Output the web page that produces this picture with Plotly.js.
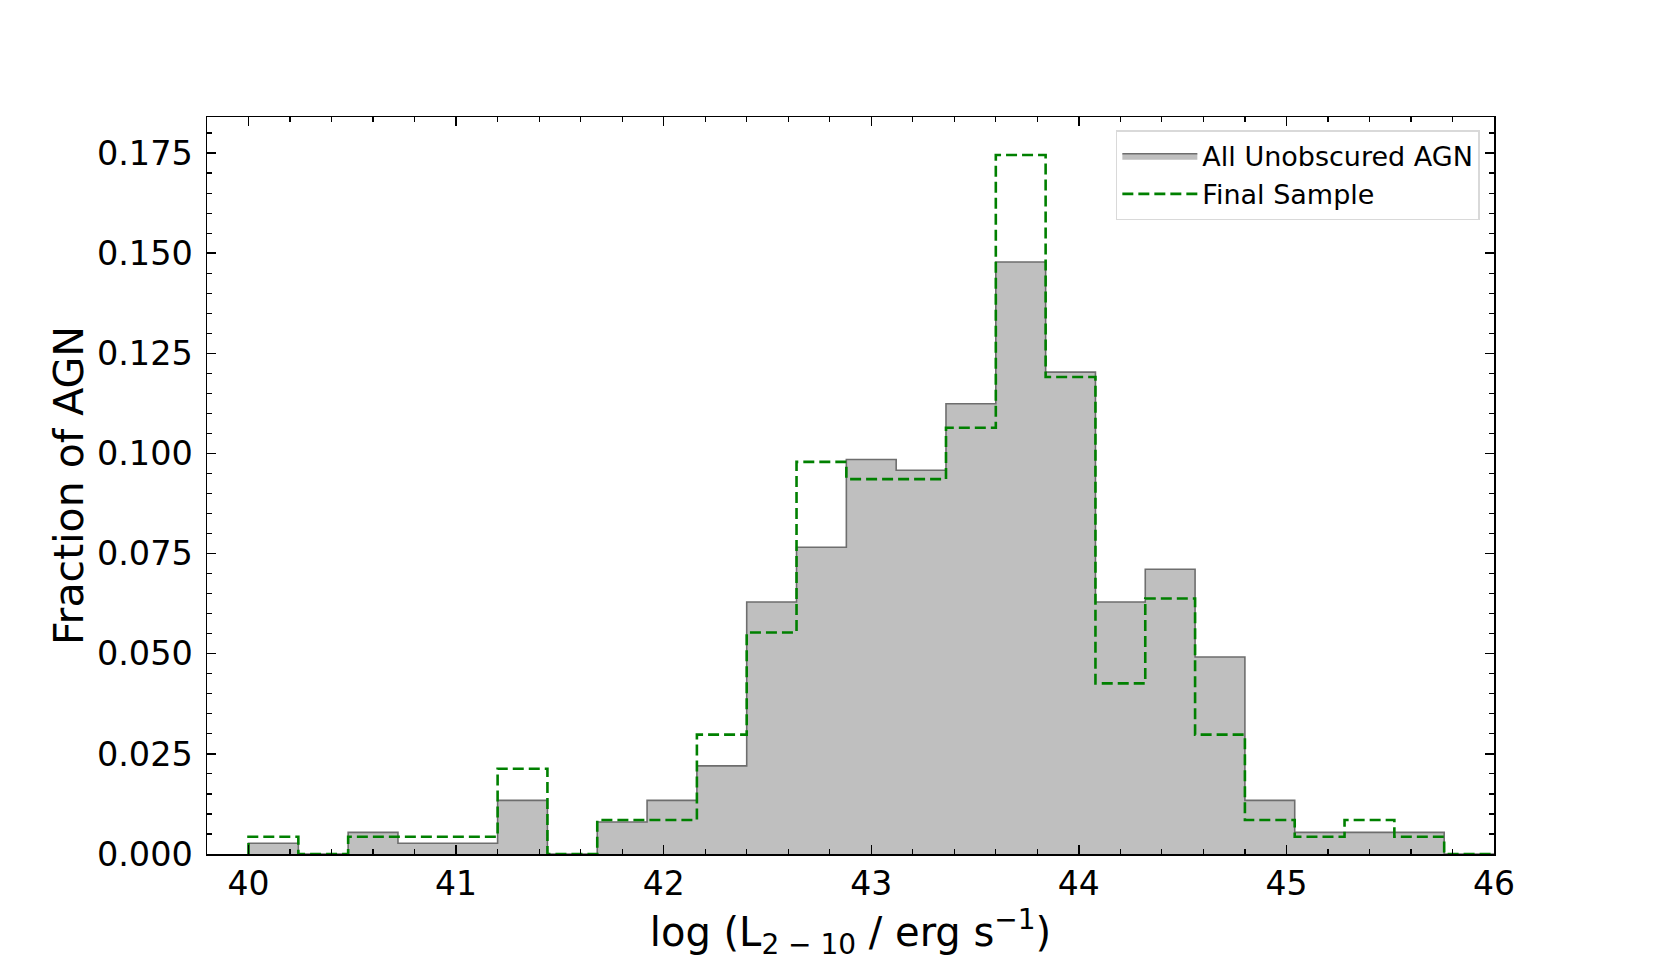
<!DOCTYPE html>
<html>
<head>
<meta charset="utf-8">
<script src="https://cdn.plot.ly/plotly-3.0.1.min.js"></script>
<style>
  html, body { margin: 0; padding: 0; background: #fff; }
  #plot { width: 1661px; height: 977px; }
</style>
</head>
<body>
<div id="plot"></div>
<script>
// bin edges of log L(2-10 keV), 25 bins of 0.24 dex
var binEdges = [40.00, 40.24, 40.48, 40.72, 40.96, 41.20, 41.44, 41.68, 41.92, 42.16,
                42.40, 42.64, 42.88, 43.12, 43.36, 43.60, 43.84, 44.08, 44.32, 44.56,
                44.80, 45.04, 45.28, 45.52, 45.76, 46.00];

// fraction of AGN in each bin
var allAgn = [0.0027, 0, 0.0054, 0.0027, 0.0027, 0.0134, 0, 0.0080, 0.0134, 0.0220,
              0.0629, 0.0766, 0.0985, 0.0958, 0.1124, 0.1478, 0.1203, 0.0629, 0.0711, 0.0492,
              0.0134, 0.0054, 0.0054, 0.0054, 0];

var finalSample = [0.0043, 0, 0.0043, 0.0043, 0.0043, 0.0213, 0, 0.0085, 0.0085, 0.0298,
                   0.0553, 0.0979, 0.0936, 0.0936, 0.1064, 0.1745, 0.1191, 0.0426, 0.0638, 0.0298,
                   0.0085, 0.0043, 0.0085, 0.0043, 0];

// turn values per bin into a step outline (x = edges, shape hv)
function stepXY(edges, vals) {
  var x = [edges[0]], y = [0];
  for (var i = 0; i < vals.length; i++) {
    x.push(edges[i]);
    y.push(vals[i]);
  }
  x.push(edges[edges.length - 1]);
  y.push(0);
  return {x: x, y: y};
}

var s1 = stepXY(binEdges, allAgn);
var s2 = stepXY(binEdges, finalSample);

var trace1 = {
  x: s1.x,
  y: s1.y,
  type: "scatter",
  mode: "lines",
  name: "All Unobscured AGN",
  line: {shape: "hv", color: "#6e6e6e", width: 1.6},
  fill: "tozeroy",
  fillcolor: "#bfbfbf"
};

var trace2 = {
  x: s2.x,
  y: s2.y,
  type: "scatter",
  mode: "lines",
  name: "Final Sample",
  line: {shape: "hv", color: "#008000", width: 2.6, dash: "11px,5px"}
};

var data = [trace1, trace2];

var font = "DejaVu Sans, Liberation Sans, sans-serif";

var layout = {
  width: 1661,
  height: 977,
  margin: {l: 207, r: 167, t: 117, b: 123},
  paper_bgcolor: "#fff",
  plot_bgcolor: "#fff",
  font: {family: font, color: "#000"},
  showlegend: true,
  legend: {
    x: 0.989, y: 0.982, xanchor: "right", yanchor: "top",
    bgcolor: "rgba(255,255,255,0.8)",
    bordercolor: "#d9d9d9", borderwidth: 1.5,
    font: {family: font, size: 27, color: "#000"},
    itemwidth: 75,
    tracegroupgap: 4
  },
  xaxis: {
    range: [39.8, 46],
    title: {text: "log (L<sub>2 − 10</sub> / erg s<sup>−1</sup>)", font: {family: font, size: 40}, standoff: 10},
    tickmode: "linear", tick0: 40, dtick: 1,
    ticks: "inside", ticklen: 9, tickwidth: 1.5, tickcolor: "#000",
    tickfont: {family: font, size: 33},
    minor: {ticks: "inside", dtick: 0.2, tick0: 40, ticklen: 5, tickwidth: 1.2, tickcolor: "#000", showgrid: false},
    showline: true, linecolor: "#000", linewidth: 1.5, mirror: "allticks",
    showgrid: false, zeroline: false
  },
  yaxis: {
    range: [0, 0.184],
    title: {text: "Fraction of AGN", font: {family: font, size: 41}, standoff: 0},
    tickmode: "linear", tick0: 0, dtick: 0.025, tickformat: ".3f",
    ticks: "inside", ticklen: 9, tickwidth: 1.5, tickcolor: "#000",
    tickfont: {family: font, size: 33.5},
    ticklabelstandoff: 6,
    minor: {ticks: "inside", dtick: 0.005, tick0: 0, ticklen: 5, tickwidth: 1.2, tickcolor: "#000", showgrid: false},
    showline: true, linecolor: "#000", linewidth: 1.5, mirror: "allticks",
    showgrid: false, zeroline: false
  }
};

Plotly.newPlot("plot", data, layout, {staticPlot: true});
</script>
</body>
</html>
